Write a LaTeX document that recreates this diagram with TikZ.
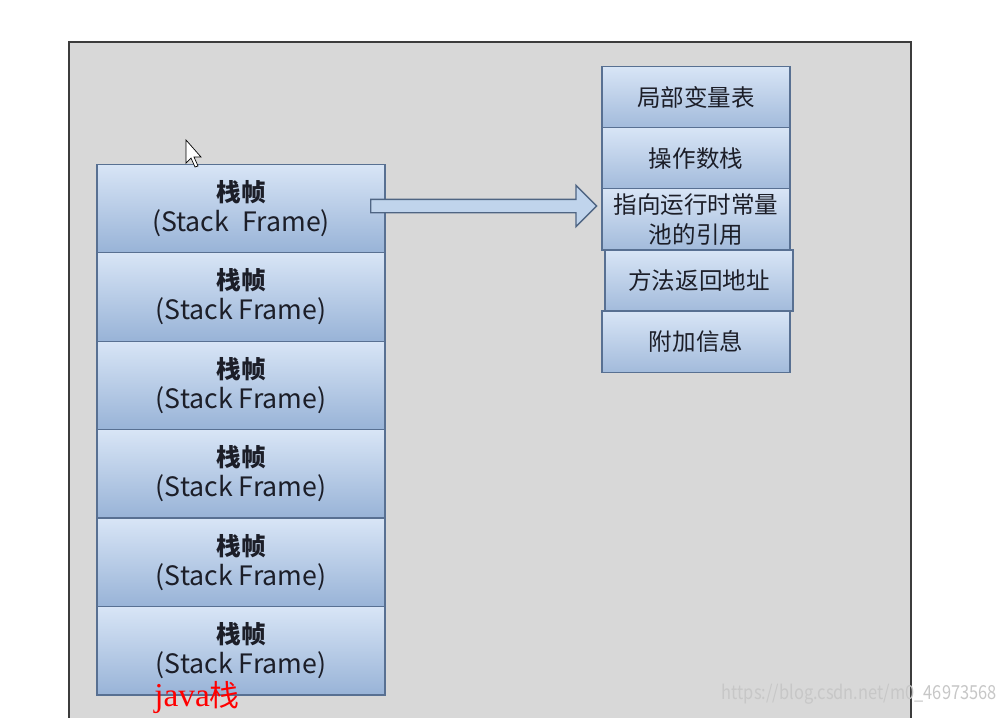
\documentclass[tikz,border=0pt]{standalone}
\usepackage{fontspec}
\setmainfont{Noto Sans CJK SC}
\newfontfamily\latinserif{Liberation Serif}
\usepackage{tikz}
\definecolor{panelgray}{RGB}{216,216,216}
\definecolor{paneledge}{RGB}{60,60,60}
\definecolor{boxtop}{RGB}{216,229,246}
\definecolor{boxbottom}{RGB}{152,179,215}
\definecolor{boxedge}{RGB}{88,112,146}
\definecolor{arrowblue}{RGB}{192,212,236}
\definecolor{textdark}{RGB}{28,30,40}
\usetikzlibrary{positioning,shapes.arrows,calc}

\begin{document}
\begin{tikzpicture}[
    x=0.02cm, y=-0.02cm,
    node distance=0pt,
    frame/.style={rectangle, minimum width=5.76cm, minimum height=1.77cm, inner sep=0pt, outer sep=0pt, align=center, text=textdark, top color=boxtop, bottom color=boxbottom, draw=boxedge, line width=0.8pt, font=\fontsize{15.2}{17}\selectfont},
    part/.style={rectangle, minimum width=3.76cm, minimum height=1.224cm, inner sep=0pt, outer sep=0pt, align=center, text=textdark, top color=boxtop, bottom color=boxbottom!90!white, draw=boxedge, line width=0.8pt, font=\fontsize{13.4}{17}\selectfont},
    blockarrow/.style={single arrow, draw=boxedge!90!black, fill=arrowblue, line width=0.8pt, minimum width=0.8cm, minimum height=4.52cm, single arrow head extend=0.28cm, inner xsep=0pt, inner ysep=0.12cm}
]
\useasboundingbox[fill=white] (0,0) rectangle (1006,717);

% Background panel
\draw[fill=panelgray, draw=paneledge, line width=0.9pt] (69,730) -- (69,42) -- (911,42) -- (911,730);

% Stack frames
\node[frame] (f1) at (241,208.5) {\textbf{\fontsize{14}{17}\selectfont 栈帧}\\(Stack\hspace{0.5em}Frame)};
\node[frame, below=of f1] (f2) {\textbf{\fontsize{14}{17}\selectfont 栈帧}\\(Stack Frame)};
\node[frame, below=of f2] (f3) {\textbf{\fontsize{14}{17}\selectfont 栈帧}\\(Stack Frame)};
\node[frame, below=of f3] (f4) {\textbf{\fontsize{14}{17}\selectfont 栈帧}\\(Stack Frame)};
\node[frame, below=of f4] (f5) {\textbf{\fontsize{14}{17}\selectfont 栈帧}\\(Stack Frame)};
\node[frame, below=of f5] (f6) {\textbf{\fontsize{14}{17}\selectfont 栈帧}\\(Stack Frame)};

% Frame contents
\node[part] (locals) at (696,97) {局部变量表};
\node[part, below=of locals] (operands) {操作数栈};
\node[part, below=of operands] (poolref) {指向运行时常量\\池的引用};
\node[part, below=of poolref, xshift=0.06cm] (retaddr) {方法返回地址};
\node[part, below=of retaddr, xshift=-0.06cm] (extra) {附加信息};

% Arrow
\node[blockarrow, anchor=west] (link) at ($(f1.east)+(-0.3cm,0.05cm)$) {};

% Caption
\node[text=red, anchor=base west, inner sep=0pt, font=\fontsize{19}{19}\selectfont] (caption) at (154,706) {{\latinserif java}\fontsize{17}{19}\selectfont 栈};
\node[text=black!22, anchor=south east, inner sep=0pt, font=\fontsize{11}{11}\selectfont, xscale=0.85] (mark) at (997,705) {https://blog.csdn.net/m0\_46973568};

% Cursor
\draw[fill=white, draw=black, line width=0.4pt] (186,140) -- (186,163) -- (191,158) -- (195,167) -- (198,166) -- (194,157) -- (201,157) -- cycle;

\end{tikzpicture}
\end{document}
